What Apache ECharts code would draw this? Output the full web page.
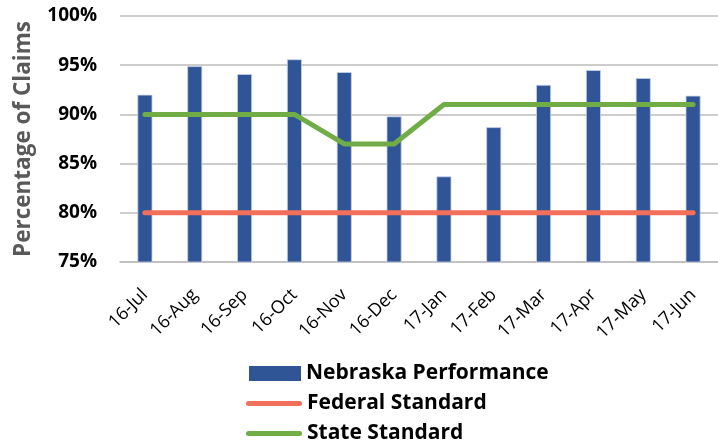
<!DOCTYPE html>
<html>
<head>
<meta charset="utf-8">
<script src="https://cdn.jsdelivr.net/npm/echarts@6/dist/echarts.min.js"></script>
<style>
html,body{margin:0;padding:0;background:#fff;}
#chart{width:718px;height:446px;}
</style>
</head>
<body>
<div id="chart"></div>
<script>
const categories = ['16-Jul','16-Aug','16-Sep','16-Oct','16-Nov','16-Dec','17-Jan','17-Feb','17-Mar','17-Apr','17-May','17-Jun'];
const nebraskaPerformance = [92.0, 94.9, 94.1, 95.6, 94.3, 89.8, 83.7, 88.7, 93.0, 94.5, 93.7, 91.9];
const federalStandard = [80, 80, 80, 80, 80, 80, 80, 80, 80, 80, 80, 80];
const stateStandard = [90, 90, 90, 90, 87, 87, 91, 91, 91, 91, 91, 91];
const yTicks = { min: 75, max: 100, interval: 5 };

const FONT = '"Open Sans", sans-serif';
const lineIcon = 'path://M2.5,0 L53.5,0 A2.5,2.5 0 0 1 53.5,5 L2.5,5 A2.5,2.5 0 0 1 2.5,0 Z';
const legendText = { fontFamily: FONT, fontSize: 21, fontWeight: 'bold', color: '#000', lineHeight: 24 };
const chart = echarts.init(document.getElementById('chart'), null, {renderer: 'canvas'});
chart.setOption({
  animation: false,
  backgroundColor: '#ffffff',
  grid: { left: 120, top: 16, width: 602, bottom: 184, containLabel: false },
  legend: [
    { left: 249, top: 361.5, padding: 0, itemWidth: 52, itemHeight: 15, itemGap: 5,
      textStyle: legendText, itemStyle: { borderWidth: 0 },
      data: [{ name: 'Nebraska Performance', icon: 'rect' }] },
    { left: 246, top: 391.5, padding: 0, itemWidth: 56, itemHeight: 5,
      textStyle: legendText, itemStyle: { borderWidth: 0 },
      data: [{ name: 'Federal Standard', icon: lineIcon }] },
    { left: 246, top: 421.5, padding: 0, itemWidth: 56, itemHeight: 5,
      textStyle: legendText, itemStyle: { borderWidth: 0 },
      data: [{ name: 'State Standard', icon: lineIcon }] }
  ],
  xAxis: {
    type: 'category',
    data: categories,
    axisLine: { show: true, lineStyle: { color: '#bdbdbd', width: 1.5 } },
    axisTick: { show: false },
    axisLabel: { rotate: 45, margin: 30, interval: 0, fontFamily: FONT, fontSize: 18, color: '#000' }
  },
  yAxis: {
    type: 'value',
    min: yTicks.min, max: yTicks.max, interval: yTicks.interval,
    name: 'Percentage of Claims',
    nameLocation: 'middle',
    nameGap: 85,
    nameTextStyle: { fontFamily: FONT, fontSize: 22.5, fontWeight: 'bold', color: '#595959' },
    axisLine: { show: false },
    axisTick: { show: false },
    axisLabel: { formatter: '{value}%', margin: 23, fontFamily: FONT, fontSize: 19, fontWeight: 'bold', color: '#000' },
    splitLine: { lineStyle: { color: '#bdbdbd', width: 1.5 } }
  },
  series: [
    {
      name: 'Nebraska Performance',
      type: 'bar',
      data: nebraskaPerformance,
      barWidth: 15,
      itemStyle: { color: '#2F5597', borderColor: '#c9d3e8', borderWidth: 0.8 },
      z: 2
    },
    {
      name: 'Federal Standard',
      type: 'line',
      data: federalStandard,
      symbol: 'none',
      itemStyle: { color: '#F2705B' },
      lineStyle: { color: '#F2705B', width: 5, cap: 'round' },
      z: 3
    },
    {
      name: 'State Standard',
      type: 'line',
      data: stateStandard,
      symbol: 'none',
      itemStyle: { color: '#70AD47' },
      lineStyle: { color: '#70AD47', width: 5, cap: 'round', join: 'round' },
      z: 4
    }
  ]
});
</script>
</body>
</html>
